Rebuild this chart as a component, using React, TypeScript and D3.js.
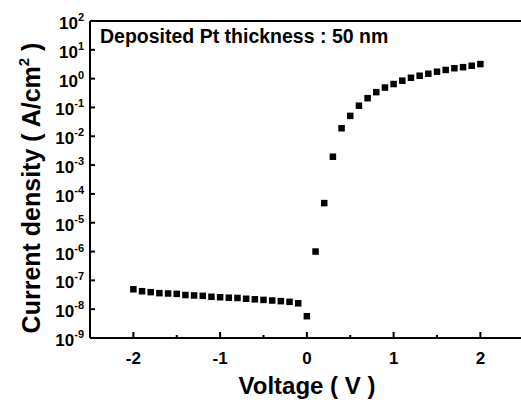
import { useMemo } from "react";
import * as d3 from "d3";

const WIDTH = 521;
const HEIGHT = 405;
const LEFT = 90;
const TOP = 21;
const BOTTOM = 338;
const FONT = "'Liberation Sans', Arial, sans-serif";

// reverse branch, -2.0 .. -0.1 V
const reverseVoltage = [
  -2.0, -1.9, -1.8, -1.7, -1.6, -1.5, -1.4, -1.3, -1.2, -1.1,
  -1.0, -0.9, -0.8, -0.7, -0.6, -0.5, -0.4, -0.3, -0.2, -0.1,
];
const reverseCurrent = [
  4.9e-8, 4.2e-8, 3.9e-8, 3.6e-8, 3.5e-8, 3.4e-8, 3.1e-8, 3.0e-8, 2.9e-8, 2.7e-8,
  2.6e-8, 2.5e-8, 2.45e-8, 2.3e-8, 2.2e-8, 2.1e-8, 2.0e-8, 1.9e-8, 1.8e-8, 1.6e-8,
];
// forward branch, 0 .. 2 V
const forwardVoltage = [
  0.0, 0.1, 0.2, 0.3, 0.4, 0.5, 0.6, 0.7, 0.8, 0.9, 1.0,
  1.1, 1.2, 1.3, 1.4, 1.5, 1.6, 1.7, 1.8, 1.9, 2.0,
];
const forwardCurrent = [
  5.7e-9, 1.0e-6, 4.8e-5, 1.95e-3, 1.9e-2, 5.1e-2, 0.115, 0.21, 0.34, 0.49, 0.65,
  0.85, 1.07, 1.26, 1.48, 1.74, 2.0, 2.3, 2.5, 2.8, 3.2,
];

const xMajorTicks = [-2, -1, 0, 1, 2];
const xMinorTicks = [-1.5, -0.5, 0.5, 1.5];
const yExponents = [2, 1, 0, -1, -2, -3, -4, -5, -6, -7, -8, -9];

const annotation = "Deposited Pt thickness : 50 nm";

export default function App() {
  const x = d3.scaleLinear().domain([-2.5, 2.5]).range([LEFT, LEFT + 5 * 86.75]);
  const y = d3.scaleLog().domain([1e-9, 1e2]).range([BOTTOM, TOP]);

  const points = useMemo(() => {
    const rev = reverseVoltage.map((v, i) => ({ v, j: reverseCurrent[i] }));
    const fwd = forwardVoltage.map((v, i) => ({ v, j: forwardCurrent[i] }));
    return rev.concat(fwd);
  }, []);

  const size = 6.5;

  return (
    <svg
      width={WIDTH}
      height={HEIGHT}
      style={{ position: "absolute", left: 0, top: 0, background: "#fff" }}
      fontFamily={FONT}
      fontWeight="bold"
    >
      {/* frame */}
      <line x1={LEFT} y1={TOP} x2={WIDTH} y2={TOP} stroke="#000" strokeWidth={2} />
      <line x1={LEFT} y1={TOP} x2={LEFT} y2={BOTTOM} stroke="#000" strokeWidth={2} />
      <line x1={LEFT} y1={BOTTOM} x2={WIDTH} y2={BOTTOM} stroke="#000" strokeWidth={2} />

      {/* y ticks */}
      {yExponents.map((e) => (
        <g key={e}>
          {e < 2 && e > -9 && (
            <line x1={LEFT} x2={LEFT + 5} y1={y(10 ** e)} y2={y(10 ** e)} stroke="#000" strokeWidth={2} />
          )}
          <text x={84} y={y(10 ** e) + 8} textAnchor="end" fontSize={17}>
            10
            <tspan dy={-8} fontSize={11}>{e}</tspan>
          </text>
        </g>
      ))}

      {/* x ticks */}
      {xMajorTicks.map((t) => (
        <g key={t}>
          <line x1={x(t)} x2={x(t)} y1={BOTTOM} y2={BOTTOM - 6} stroke="#000" strokeWidth={2} />
          <text x={x(t)} y={364} textAnchor="middle" fontSize={17}>{t}</text>
        </g>
      ))}
      {xMinorTicks.map((t) => (
        <line key={t} x1={x(t)} x2={x(t)} y1={BOTTOM} y2={BOTTOM - 3} stroke="#000" strokeWidth={2} />
      ))}

      {/* data */}
      {points.map((p, i) => (
        <rect
          key={i}
          x={x(p.v) - size / 2}
          y={y(p.j) - size / 2}
          width={size}
          height={size}
          fill="#000"
        />
      ))}

      {/* annotation */}
      <text x={100} y={43} fontSize={19.5}>{annotation}</text>

      {/* axis titles */}
      <text x={307} y={394} textAnchor="middle" fontSize={24}>Voltage ( V )</text>
      <text transform="translate(40, 188) rotate(-90)" textAnchor="middle" fontSize={25}>
        Current density ( A/cm
        <tspan dy={-11} fontSize={15}>2</tspan>
        <tspan dy={11}> )</tspan>
      </text>
    </svg>
  );
}
